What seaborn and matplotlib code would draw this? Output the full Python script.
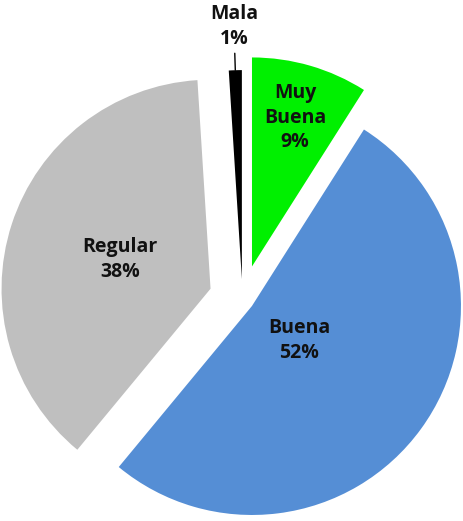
import numpy as np
import matplotlib
matplotlib.use("Agg")
import matplotlib.pyplot as plt
import seaborn as sns

categories = ["Muy\nBuena", "Buena", "Regular", "Mala"]
values = [9, 52, 38, 1]
pct_labels = ["9%", "52%", "38%", "1%"]

sns.set_theme(style="white")
plt.rcParams['font.family'] = ['Open Sans', 'DejaVu Sans']

colors = ["#00F000", "#558ED5", "#BFBFBF", "#000000"]
explode = [34, 11.7, 33.6, 20]
label_frac = [0.74, 0.28, 0.456, 1.21]

fig = plt.figure(figsize=(4.63, 5.21), dpi=100)
ax = fig.add_axes([0, 0, 1, 1])
R = 209
cx, cy = 242.5, 521 - 299.1
wedges, _ = ax.pie(values, colors=colors, explode=explode, radius=R,
                   center=(cx, cy), startangle=90, counterclock=False,
                   wedgeprops=dict(linewidth=0))
ax.set_xlim(0, 463)
ax.set_ylim(0, 521)
ax.set_aspect('equal')
ax.axis('off')

FS = 14
for w, cat, pct, f in zip(wedges, categories, pct_labels, label_frac):
    ang = np.deg2rad((w.theta1 + w.theta2) / 2)
    wx, wy = w.center
    tx = wx + f * R * np.cos(ang)
    ty = wy + f * R * np.sin(ang)
    if f > 1:
        ex = wx + R * np.cos(ang)
        ey = wy + R * np.sin(ang)
        ax.annotate(f"{cat}\n{pct}", xy=(ex, ey), xytext=(tx, ty),
                    ha='center', va='center', fontsize=FS, fontweight='bold',
                    color='#111111', linespacing=1.3,
                    arrowprops=dict(arrowstyle='-', color='black', lw=1,
                                    shrinkA=1, shrinkB=0))
    else:
        ax.text(tx, ty, f"{cat}\n{pct}", ha='center', va='center',
                fontsize=FS, fontweight='bold', color='#111111',
                linespacing=1.3)

fig.savefig("out.png", dpi=100)
